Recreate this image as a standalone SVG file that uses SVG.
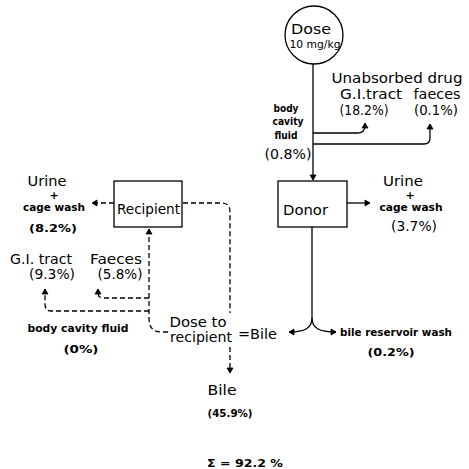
<svg xmlns="http://www.w3.org/2000/svg" width="469" height="469" viewBox="0 0 469 469">
<defs>
<marker id="ah" viewBox="-6 -4 8 8" markerWidth="8" markerHeight="8" refX="0" refY="0" orient="auto" markerUnits="userSpaceOnUse">
<path d="M-5,-3 L0,0 L-5,3 Z" fill="#000" stroke="#000" stroke-width="0.8" stroke-linejoin="round"/>
</marker>
</defs>
<style>
.s{fill:none;stroke:#000;stroke-width:1.3}
.d{fill:none;stroke:#000;stroke-width:1.3;stroke-dasharray:5 3}
.box{fill:#fff;stroke:#000;stroke-width:1.3}
text{font-family:"DejaVu Sans","Liberation Sans",sans-serif;fill:#000}
.r{font-size:14px}
.b{font-size:11px;font-weight:bold}
.m{text-anchor:middle}
</style>
<rect width="469" height="469" fill="#fff"/>
<g id="connectors">
<path class="s" d="M313,64 V180" marker-end="url(#ah)"/>
<path class="s" d="M313,133 H357 Q365,133 365,126 V123" marker-end="url(#ah)"/>
<path class="s" d="M313,144 H424 Q430,144 430,138 V124" marker-end="url(#ah)"/>
<path class="s" d="M347,203 H370" marker-end="url(#ah)"/>
<path class="s" d="M312,227 V318 C312,328 305,332 289,332" marker-end="url(#ah)"/>
<path class="s" d="M312,318 C312,328 319,332 336,332" marker-end="url(#ah)"/>
<path class="d" d="M183,203 H222 Q230,203 230,212 V313"/>
<path class="d" d="M230,347 V373" marker-end="url(#ah)"/>
<path class="d" d="M168,332 H161 Q149,332 149,318 V229" marker-end="url(#ah)"/>
<path class="d" d="M149,298 H104 Q98,298 98,293 V289" marker-end="url(#ah)"/>
<path class="d" d="M149,311 H51 Q45,311 45,304 V289" marker-end="url(#ah)"/>
<path class="d" d="M114,203 H92" marker-end="url(#ah)"/>
</g>
<g id="dose">
<circle cx="314" cy="35" r="29" class="box"/>
<text class="m" x="311" y="34" font-size="14.5" textLength="40" lengthAdjust="spacingAndGlyphs">Dose</text>
<text class="m" x="315" y="48" font-size="10.5" textLength="51" lengthAdjust="spacingAndGlyphs">10 mg/kg</text>
</g>
<g id="unabsorbed">
<text class="r m" x="397" y="83" textLength="131" lengthAdjust="spacingAndGlyphs">Unabsorbed drug</text>
<text class="r m" x="371" y="99" textLength="62" lengthAdjust="spacingAndGlyphs">G.I.tract</text>
<text class="r m" x="437" y="99" textLength="47" lengthAdjust="spacingAndGlyphs">faeces</text>
<text class="r m" x="364" y="115" font-size="12.5" textLength="49" lengthAdjust="spacingAndGlyphs">(18.2%)</text>
<text class="r m" x="436" y="115" font-size="12.5" textLength="44" lengthAdjust="spacingAndGlyphs">(0.1%)</text>
</g>
<g id="donor-cavity">
<text class="b m" x="286" y="112" textLength="25" lengthAdjust="spacingAndGlyphs">body</text>
<text class="b m" x="288" y="125" textLength="31" lengthAdjust="spacingAndGlyphs">cavity</text>
<text class="b m" x="286" y="139" textLength="23" lengthAdjust="spacingAndGlyphs">fluid</text>
<text class="r m" x="288" y="159" font-size="13" textLength="47" lengthAdjust="spacingAndGlyphs">(0.8%)</text>
</g>
<g id="donor">
<rect x="278" y="181" width="69" height="46" class="box"/>
<text class="r" x="283" y="215" font-size="14.5" textLength="45" lengthAdjust="spacingAndGlyphs">Donor</text>
</g>
<g id="donor-urine">
<text class="r m" x="403" y="186" textLength="40" lengthAdjust="spacingAndGlyphs">Urine</text>
<text class="b m" x="410" y="199" font-size="8">+</text>
<text class="b m" x="411" y="211" textLength="63" lengthAdjust="spacingAndGlyphs">cage wash</text>
<text class="r m" x="414" y="231" font-size="13" textLength="46" lengthAdjust="spacingAndGlyphs">(3.7%)</text>
</g>
<g id="recipient">
<rect x="114" y="181" width="68" height="46" class="box"/>
<text class="r m" x="148.5" y="214" textLength="63" lengthAdjust="spacingAndGlyphs">Recipient</text>
</g>
<g id="recipient-urine">
<text class="r m" x="47" y="186" textLength="39" lengthAdjust="spacingAndGlyphs">Urine</text>
<text class="b m" x="54" y="199" font-size="8">+</text>
<text class="b m" x="54" y="211" textLength="62" lengthAdjust="spacingAndGlyphs">cage wash</text>
<text class="b m" x="53" y="232" textLength="48" lengthAdjust="spacingAndGlyphs">(8.2%)</text>
</g>
<g id="recipient-gi">
<text class="r m" x="41" y="264" textLength="62" lengthAdjust="spacingAndGlyphs">G.I. tract</text>
<text class="r m" x="52" y="279" textLength="46" lengthAdjust="spacingAndGlyphs">(9.3%)</text>
</g>
<g id="recipient-faeces">
<text class="r m" x="116" y="264" textLength="52" lengthAdjust="spacingAndGlyphs">Faeces</text>
<text class="r m" x="120" y="279" textLength="45" lengthAdjust="spacingAndGlyphs">(5.8%)</text>
</g>
<g id="recipient-cavity">
<text class="b m" x="78" y="332" textLength="101" lengthAdjust="spacingAndGlyphs">body cavity fluid</text>
<text class="b m" x="81" y="353" textLength="35" lengthAdjust="spacingAndGlyphs">(0%)</text>
</g>
<g id="dose-to-recipient">
<text class="r m" x="198" y="327" textLength="57" lengthAdjust="spacingAndGlyphs">Dose to</text>
<text class="r m" x="201" y="342" textLength="62" lengthAdjust="spacingAndGlyphs">recipient</text>
<text class="r" x="238" y="339" textLength="39" lengthAdjust="spacingAndGlyphs">=Bile</text>
</g>
<g id="bile-wash">
<text class="b" x="340" y="336" textLength="112" lengthAdjust="spacingAndGlyphs">bile reservoir wash</text>
<text class="b m" x="391" y="356" textLength="47" lengthAdjust="spacingAndGlyphs">(0.2%)</text>
</g>
<g id="bile">
<text class="r m" x="222" y="395" textLength="29" lengthAdjust="spacingAndGlyphs">Bile</text>
<text class="b m" x="230" y="417" textLength="45" lengthAdjust="spacingAndGlyphs">(45.9%)</text>
</g>
<g id="sum">
<text class="b m" x="245" y="467" textLength="76" lengthAdjust="spacingAndGlyphs">Σ = 92.2 %</text>
</g>
</svg>
